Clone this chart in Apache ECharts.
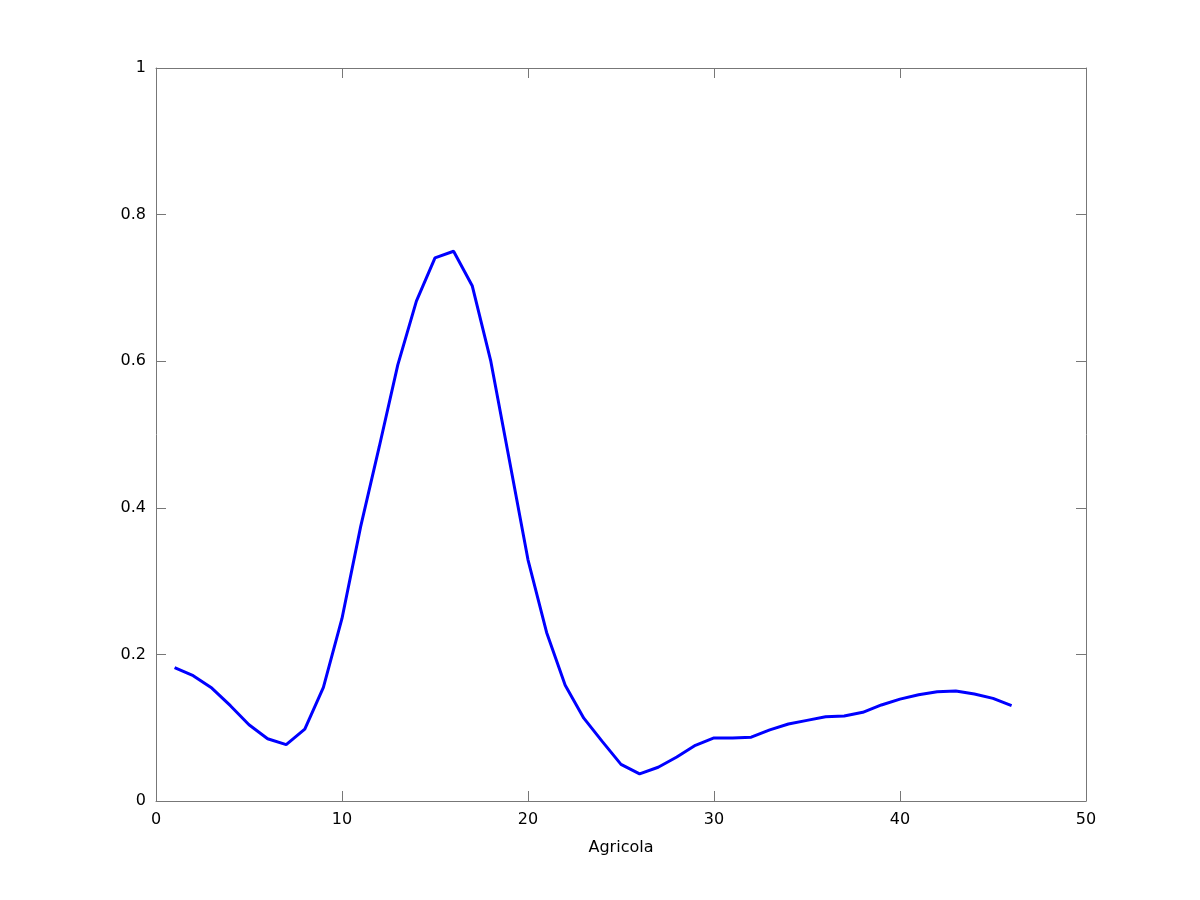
<!DOCTYPE html>
<html>
<head>
<meta charset="utf-8">
<script src="https://cdn.jsdelivr.net/npm/echarts@6/dist/echarts.min.js"></script>
<style>html,body{margin:0;padding:0;background:#fff}#c{width:1200px;height:900px}</style>
</head>
<body>
<div id="c"></div>
<script>
const xValues = [1,2,3,4,5,6,7,8,9,10,11,12,13,14,15,16,17,18,19,20,21,22,23,24,25,26,27,28,29,30,31,32,33,34,35,36,37,38,39,40,41,42,43,44,45,46];
const yValues = [0.182,0.171,0.154,0.130,0.104,0.085,0.077,0.098,0.155,0.249,0.374,0.483,0.595,0.682,0.741,0.750,0.703,0.600,0.465,0.329,0.230,0.158,0.113,0.081,0.050,0.037,0.046,0.060,0.076,0.086,0.086,0.087,0.097,0.105,0.110,0.115,0.116,0.121,0.131,0.139,0.145,0.149,0.150,0.146,0.140,0.130];
const xLabel = 'Agricola';

const chart = echarts.init(document.getElementById('c'), null, {renderer:'canvas'});
const axisColor = '#777';
const font = 'DejaVu Sans';
const baseAxis = {
  axisLine:{show:true, onZero:false, lineStyle:{color:axisColor, width:1}},
  axisTick:{show:true, inside:true, length:10, lineStyle:{color:axisColor, width:1}},
  splitLine:{show:false}
};
chart.setOption({
  animation:false,
  backgroundColor:'#fff',
  grid:{left:156, right:114, top:68, bottom:99, containLabel:false},
  xAxis:[
    Object.assign({}, baseAxis, {type:'value', min:0, max:50, interval:10, position:'bottom',
      name:xLabel, nameLocation:'middle', nameGap:39,
      nameTextStyle:{color:'#000', fontSize:16, fontFamily:font},
      axisLabel:{color:'#000', fontSize:16, fontFamily:font, margin:11}}),
    Object.assign({}, baseAxis, {type:'value', min:0, max:50, interval:10, position:'top',
      axisLabel:{show:false}})
  ],
  yAxis:[
    Object.assign({}, baseAxis, {type:'value', min:0, max:1, interval:0.2, position:'left',
      axisLabel:{color:'#000', fontSize:16, fontFamily:font, margin:10}}),
    Object.assign({}, baseAxis, {type:'value', min:0, max:1, interval:0.2, position:'right',
      axisLabel:{show:false}})
  ],
  series:[{
    type:'line',
    data: xValues.map((x,i)=>[x, yValues[i]]),
    showSymbol:false,
    symbol:'none',
    lineStyle:{color:'#0000ff', width:3},
    itemStyle:{color:'#0000ff'}
  }]
});
</script>
</body>
</html>
